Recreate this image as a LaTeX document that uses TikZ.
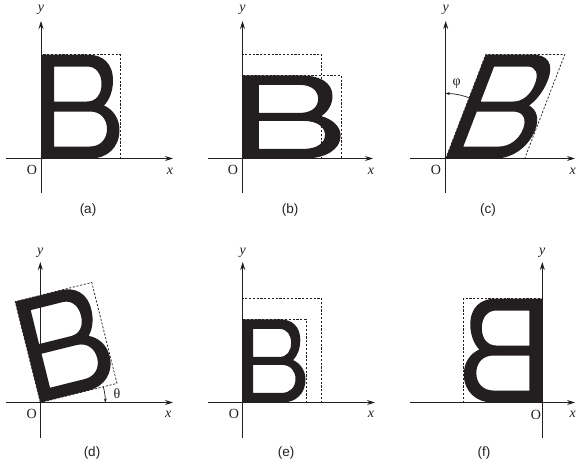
\documentclass[tikz,border=0pt]{standalone}
\usepackage{fontspec}
\setmainfont{Liberation Serif}
\newfontfamily\capfont{Liberation Sans}
\usetikzlibrary{arrows.meta}
\definecolor{ink}{RGB}{35,31,32}
\begin{document}
\begin{tikzpicture}[x=1pt,y=1pt,font=\fontsize{14}{16}\selectfont,
  axis/.style={line width=0.8pt,ink,-{Stealth[length=8pt,width=5pt]}},
  dashbox/.style={line width=0.7pt,ink,dash pattern=on 2.2pt off 1.6pt},
  angarrow/.style={line width=0.7pt,ink},
  lbl/.style={inner sep=0pt,text=ink},
  captxt/.style={inner sep=0pt,text=ink,font=\capfont\fontsize{13.5}{16}\selectfont},
  bee/.pic={
    \fill[ink, even odd rule]
      (0,0) -- (0,104) -- (46,104) .. controls (62,104) and (72,95) .. (72,78)
      .. controls (72,67) and (68,58) .. (63,53)
      .. controls (72,49) and (78.5,40) .. (78.5,28.5)
      .. controls (78.5,11) and (66,0) .. (50,0) -- cycle
      (13,57) -- (13,92) -- (46,92) .. controls (55,92) and (60.5,85) .. (60.5,74.5)
      .. controls (60.5,64) and (55,57) .. (46,57) -- cycle
      (13,12) -- (13,47) -- (49,47) .. controls (60,47) and (66,39) .. (66,29.5)
      .. controls (66,19) and (59,12) .. (49,12) -- cycle;
  },
  bframe/.pic={\draw[dashbox] (0,0) rectangle (79,104);}
]
\useasboundingbox (0,0) rectangle (577,-466);

% origins
\coordinate (oa) at (41,-158.5);
\coordinate (ob) at (242.5,-158.5);
\coordinate (oc) at (445.7,-158.5);
\coordinate (od) at (40.3,-402.5);
\coordinate (oe) at (242.7,-402.5);
\coordinate (of) at (542.3,-402.5);

% (a)
\pic at (oa) {bframe};
\pic at (oa) {bee};
% (b)
\pic at (ob) {bframe};
\pic[xscale=1.25,yscale=0.8] at (ob) {bframe};
\pic[xscale=1.25,yscale=0.8] at (ob) {bee};
% (c)
\pic[xslant=0.385] at (oc) {bframe};
\pic[xslant=0.385] at (oc) {bee};
% (d)
\pic[rotate=14] at (od) {bframe};
\pic[rotate=14] at (od) {bee};
% (e)
\pic at (oe) {bframe};
\pic[scale=0.8] at (oe) {bframe};
\pic[scale=0.8] at (oe) {bee};
% (f)
\pic[xscale=-1] at (of) {bframe};
\pic[xscale=-1] at (of) {bee};

% axes ends
\coordinate (ax0) at (6,-158.5);   \coordinate (ax1) at (173,-158.5);
\coordinate (ay0) at (41,-193);    \coordinate (ay1) at (41,-21);
\coordinate (bx0) at (208,-158.5); \coordinate (bx1) at (373,-158.5);
\coordinate (by0) at (242.5,-193); \coordinate (by1) at (242.5,-21);
\coordinate (cx0) at (410,-158.5); \coordinate (cx1) at (575,-158.5);
\coordinate (cy0) at (445.7,-193); \coordinate (cy1) at (445.7,-21);
\coordinate (dx0) at (6,-402.5);   \coordinate (dx1) at (173,-402.5);
\coordinate (dy0) at (40.3,-438);  \coordinate (dy1) at (40.3,-262);
\coordinate (ex0) at (208,-402.5); \coordinate (ex1) at (375,-402.5);
\coordinate (ey0) at (242.7,-438); \coordinate (ey1) at (242.7,-262);
\coordinate (fx0) at (410,-402.5); \coordinate (fx1) at (575,-402.5);
\coordinate (fy0) at (542.3,-438); \coordinate (fy1) at (542.3,-262);

\foreach \p in {a,b,c,d,e,f}{
  \draw[axis] (\p x0) -- (\p x1);
  \draw[axis] (\p y0) -- (\p y1);
}

% angle marks
\draw[angarrow,{Stealth[length=4pt,width=3pt]}-] ([shift={(90:65)}]oc) arc[start angle=90,end angle=69,radius=65];
\node[lbl] (phi) at (456.7,-84) {φ};
\draw[angarrow,-{Stealth[length=4pt,width=3pt]}] ([shift={(14:65)}]od) arc[start angle=14,end angle=0,radius=65];
\node[lbl] (theta) at (117,-394) {θ};

% labels
\node[lbl] (ya) at (41,-10) {\textit{y}};
\node[lbl] (yb) at (242.5,-10) {\textit{y}};
\node[lbl] (yc) at (445.7,-10) {\textit{y}};
\node[lbl] (yd) at (40.3,-253) {\textit{y}};
\node[lbl] (ye) at (242.7,-253) {\textit{y}};
\node[lbl] (yf) at (542.3,-253) {\textit{y}};

\node[lbl] (xa) at (170,-171.5) {\textit{x}};
\node[lbl] (xb) at (371,-171.5) {\textit{x}};
\node[lbl] (xc) at (572.7,-171.5) {\textit{x}};
\node[lbl] (xd) at (168.3,-414) {\textit{x}};
\node[lbl] (xe) at (371,-414) {\textit{x}};
\node[lbl] (xf) at (572.7,-414) {\textit{x}};

\node[lbl] (Oa) at (32,-170) {O};
\node[lbl] (Ob) at (233,-170) {O};
\node[lbl] (Oc) at (436,-170) {O};
\node[lbl] (Od) at (31.7,-414) {O};
\node[lbl] (Oe) at (234,-414) {O};
\node[lbl] (Of) at (536,-414.5) {O};

\node[captxt] (capa) at (88,-210) {(a)};
\node[captxt] (capb) at (290,-210) {(b)};
\node[captxt] (capc) at (488,-210) {(c)};
\node[captxt] (capd) at (92,-453) {(d)};
\node[captxt] (cape) at (286,-453) {(e)};
\node[captxt] (capf) at (484,-453) {(f)};
\end{tikzpicture}
\end{document}
